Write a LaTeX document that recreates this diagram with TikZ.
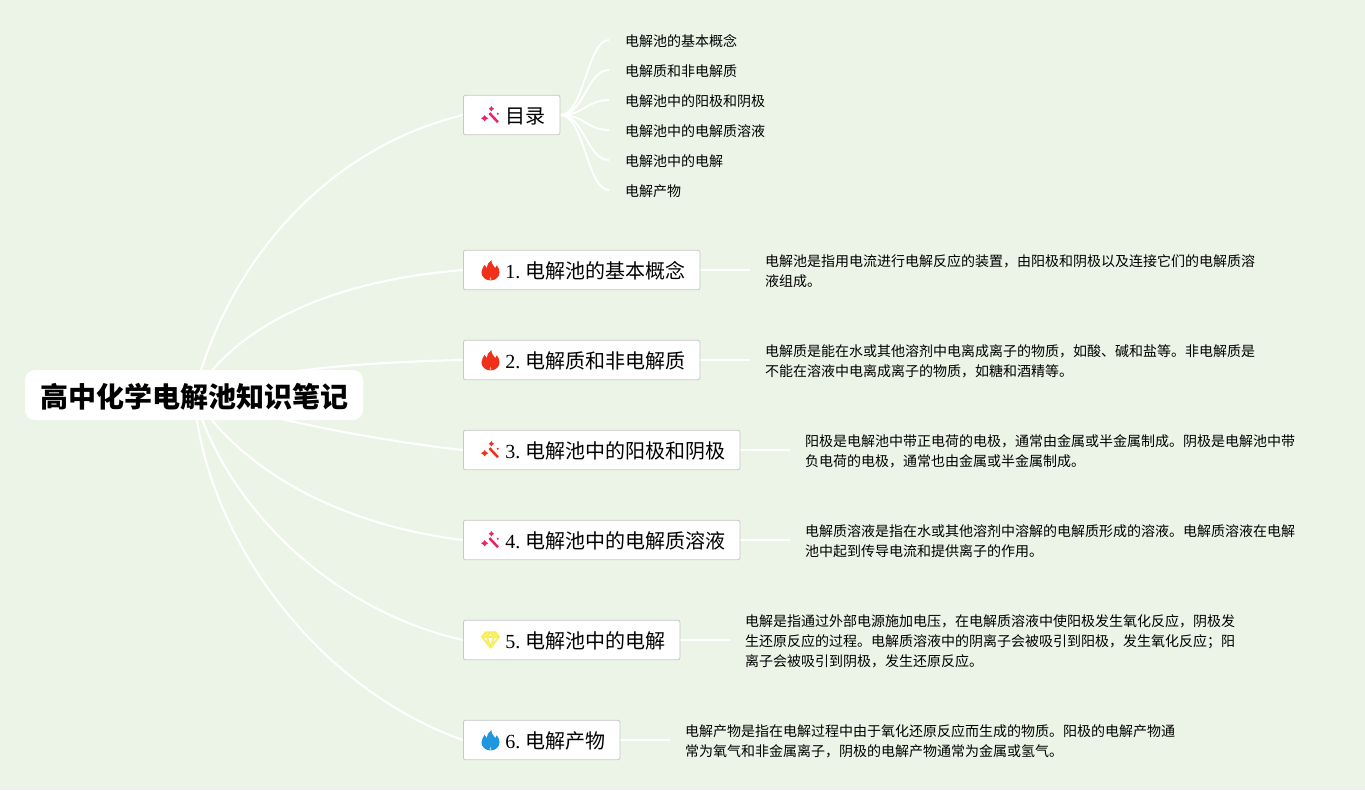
\documentclass[tikz,border=0pt]{standalone}
\usepackage{fontspec}
\setmainfont{Liberation Serif}
\newfontfamily\cjk{Noto Sans CJK SC}
\usetikzlibrary{backgrounds}
\frenchspacing
\definecolor{bgc}{HTML}{ECF4E7}
\definecolor{redi}{HTML}{F0301A}
\definecolor{pinki}{HTML}{E8256B}
\definecolor{bluei}{HTML}{1E96E0}
\definecolor{yeli}{HTML}{F7EE5A}
\newcommand{\boxlabel}[1]{\hspace*{42pt}\raisebox{-8.4pt}[0pt][0pt]{#1}}
\newcommand{\num}[2]{#1.\hspace{5.2pt}{\cjk #2}}
\tikzset{
 x=1pt,y=-1pt,
 boxn/.style={draw=black!22,fill=white,rounded corners=2pt,line width=.8pt,anchor=west,minimum height=39.5pt,inner ysep=0pt,inner xsep=0pt,font=\fontsize{20}{24}\selectfont,align=left},
 rootn/.style={fill=white,rounded corners=10pt,minimum width=338pt,minimum height=50pt,inner sep=0pt,font=\fontsize{28}{32}\selectfont\cjk\bfseries},
 leafn/.style={anchor=west,inner sep=0pt,font=\fontsize{14}{20}\selectfont\cjk},
 bodyn/.style={anchor=west,inner sep=0pt,align=left,font=\fontsize{14}{20}\selectfont\cjk},
 trunk/.style={draw=white,line width=2pt},
 twig/.style={draw=white,line width=1.8pt},
 flame/.pic={\fill[pic actions] (0,10.5) .. controls (-5.5,10.5) and (-9.5,6.5) .. (-9.5,2) .. controls (-9.5,-1.5) and (-7.5,-3.5) .. (-6.2,-6) .. controls (-5.8,-4.5) and (-5.2,-3.5) .. (-4,-2.5) .. controls (-4,-6) and (-2,-9) .. (1,-11) .. controls (1,-7) and (3,-5.5) .. (5,-2.5) .. controls (5.5,-3.5) and (6,-4.5) .. (6.5,-5.5) .. controls (8.5,-3) and (9.5,-1) .. (9.5,2) .. controls (9.5,6.5) and (5.5,10.5) .. (0,10.5) -- cycle;
   \fill[white,opacity=.6] (0,10.6) .. controls (-1.5,9.5) and (-1,8) .. (0,6.5) .. controls (1,8) and (1.5,9.5) .. (0,10.6) -- cycle;},
 wand/.pic={\fill[pic actions] (-2.2,-2.2) -- (-.2,-4.2) -- (9.2,5.8) -- (7.2,7.8) -- cycle;
   \fill[pic actions] (-6.5,-1) -- (-5,1) -- (-2.5,2.5) -- (-5,4) -- (-6.5,6) -- (-8,4) -- (-10.5,2.5) -- (-8,1) -- cycle;
   \fill[pic actions] (1,-11) -- (2.2,-9.2) -- (4,-8) -- (2.2,-6.8) -- (1,-5) -- (-.2,-6.8) -- (-2,-8) -- (-.2,-9.2) -- cycle;
   \fill[pic actions] (8,-2.5) circle (1.3);},
 gem/.pic={\draw[pic actions,line width=1.9pt,line join=round,fill=white] (-5.5,-8) -- (5.5,-8) -- (9.5,-3) -- (0,9) -- (-9.5,-3) -- cycle (-9.5,-3) -- (9.5,-3) (-4,-3) -- (0,9) -- (4,-3) (-5.5,-8) -- (-4,-3) -- (0,-8) -- (4,-3) -- (5.5,-8);},
}
\begin{document}
\begin{tikzpicture}
\useasboundingbox (0,0) rectangle (1365,790);
\node[rootn] (root) at (194,395) {\raisebox{-12.4pt}[0pt][0pt]{高中化学电解池知识笔记}};
\node[boxn,text width=96.5pt,minimum width=96.5pt] (b0) at (463,115) {\boxlabel{\cjk 目录}};
\node[boxn,text width=236.5pt,minimum width=236.5pt] (b1) at (463,270) {\boxlabel{\num{1}{电解池的基本概念}}};
\node[boxn,text width=236.5pt,minimum width=236.5pt] (b2) at (463,360) {\boxlabel{\num{2}{电解质和非电解质}}};
\node[boxn,text width=276.5pt,minimum width=276.5pt] (b3) at (463,450) {\boxlabel{\num{3}{电解池中的阳极和阴极}}};
\node[boxn,text width=276.5pt,minimum width=276.5pt] (b4) at (463,540) {\boxlabel{\num{4}{电解池中的电解质溶液}}};
\node[boxn,text width=216.5pt,minimum width=216.5pt] (b5) at (463,640) {\boxlabel{\num{5}{电解池中的电解}}};
\node[boxn,text width=156.5pt,minimum width=156.5pt] (b6) at (463,740) {\boxlabel{\num{6}{电解产物}}};
\pic[fill=pinki,scale=.9] at (490.5,116) {wand};
\pic[fill=redi,scale=.95] at (490.5,270.5) {flame};
\pic[fill=redi,scale=.95] at (490.5,360.5) {flame};
\pic[fill=redi,scale=.9] at (490.5,451) {wand};
\pic[fill=pinki,scale=.9] at (490.5,541) {wand};
\pic[draw=yeli,scale=.9] at (490.5,639.5) {gem};
\pic[fill=bluei,scale=.95] at (490.5,740.5) {flame};
\node[leafn] (l1) at (625,41) {电解池的基本概念};
\node[leafn] (l2) at (625,71) {电解质和非电解质};
\node[leafn] (l3) at (625,101) {电解池中的阳极和阴极};
\node[leafn] (l4) at (625,131) {电解池中的电解质溶液};
\node[leafn] (l5) at (625,161) {电解池中的电解};
\node[leafn] (l6) at (625,191) {电解产物};
\node[bodyn] (t1) at (765,271) {电解池是指用电流进行电解反应的装置，由阳极和阴极以及连接它们的电解质溶\\液组成。};
\node[bodyn] (t2) at (765,361) {电解质是能在水或其他溶剂中电离成离子的物质，如酸、碱和盐等。非电解质是\\不能在溶液中电离成离子的物质，如糖和酒精等。};
\node[bodyn] (t3) at (805,451) {阳极是电解池中带正电荷的电极，通常由金属或半金属制成。阴极是电解池中带\\负电荷的电极，通常也由金属或半金属制成。};
\node[bodyn] (t4) at (805,541) {电解质溶液是指在水或其他溶剂中溶解的电解质形成的溶液。电解质溶液在电解\\池中起到传导电流和提供离子的作用。};
\node[bodyn] (t5) at (745,641) {电解是指通过外部电源施加电压，在电解质溶液中使阳极发生氧化反应，阴极发\\生还原反应的过程。电解质溶液中的阴离子会被吸引到阳极，发生氧化反应；阳\\离子会被吸引到阴极，发生还原反应。};
\node[bodyn] (t6) at (685,741) {电解产物是指在电解过程中由于氧化还原反应而生成的物质。阳极的电解产物通\\常为氧气和非金属离子，阴极的电解产物通常为金属或氢气。};
\coordinate (e1) at (609,40);\coordinate (e2) at (609,70);\coordinate (e3) at (609,100);
\coordinate (e4) at (609,130);\coordinate (e5) at (609,160);\coordinate (e6) at (609,190);
\begin{scope}[on background layer]
\fill[bgc] (0,0) rectangle (1365,790);
\draw[trunk] (root.center) .. controls (225,270) and (320,150) .. (b0.west);
\draw[trunk] (root.center) .. controls (240,320) and (340,280) .. (b1.west);
\draw[trunk] (root.center) .. controls (250,370) and (370,362) .. (b2.west);
\draw[trunk] (root.center) .. controls (250,415) and (370,440) .. (b3.west);
\draw[trunk] (root.center) .. controls (240,470) and (340,525) .. (b4.west);
\draw[trunk] (root.center) .. controls (225,505) and (330,610) .. (b5.west);
\draw[trunk] (root.center) .. controls (205,540) and (320,690) .. (b6.west);
\foreach \e in {e1,e2,e3,e4,e5,e6}{\draw[twig] (b0.east) .. controls +(24,0) and +(-22,0) .. (\e);}
\draw[twig] (b1.east) -- ++(50,0);
\draw[twig] (b2.east) -- ++(50,0);
\draw[twig] (b3.east) -- ++(50,0);
\draw[twig] (b4.east) -- ++(50,0);
\draw[twig] (b5.east) -- ++(50,0);
\draw[twig] (b6.east) -- ++(50,0);
\end{scope}
\end{tikzpicture}
\end{document}
